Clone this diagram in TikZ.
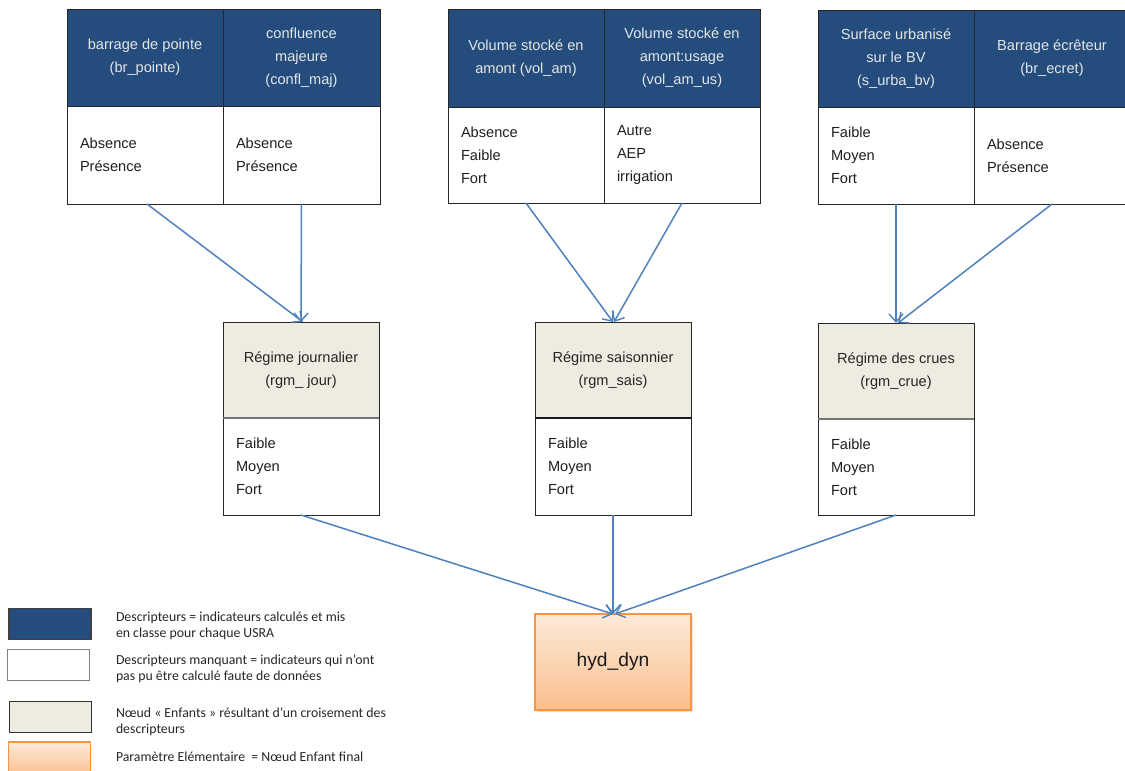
\documentclass[tikz,border=0pt]{standalone}
\usepackage{fontspec}
\setmainfont{Liberation Sans}
\newfontfamily\legfont{Carlito}
\usetikzlibrary{arrows.meta,shadows}
\definecolor{hdrblue}{RGB}{36,77,126}
\definecolor{beige}{RGB}{238,236,225}
\definecolor{arrowblue}{RGB}{79,129,189}
\definecolor{orangeB}{RGB}{247,150,70}
\definecolor{orangeT}{RGB}{253,234,218}
\definecolor{orangeBot}{RGB}{250,190,140}
\begin{document}
\begin{tikzpicture}[x=1pt,y=-1pt,
  every node/.style={inner sep=0pt, outer sep=0pt},
  hdr/.style={rectangle, draw=black!85, line width=0.8pt, fill=hdrblue, text=white!90!black,
    font=\fontsize{14.6}{23}\selectfont, align=center, minimum width=#1},
  hdr/.default=156pt,
  mid/.style={rectangle, draw=black!85, line width=0.8pt, fill=beige, text=black!85,
    font=\fontsize{14.6}{23}\selectfont, align=center, minimum width=156pt, minimum height=96pt},
  bodybox/.style={rectangle, draw=black!85, line width=0.8pt, fill=white, text=black!88,
    font=\fontsize{14.6}{23}\selectfont, align=left, inner xsep=13pt, text width=130pt},
  conn/.style={draw=arrowblue, line width=1.5pt, -{Straight Barb[length=8pt,width=14pt,line width=1.4pt]}},
  legbox/.style={rectangle, minimum width=82pt, minimum height=31pt, line width=1.2pt},
  legtxt/.style={anchor=west, align=left, text=black!85, font=\legfont\fontsize{13.8}{16}\selectfont}
]
\useasboundingbox (0,0) rectangle (1125,771);
\clip (0,0) rectangle (1125,771);

% ---- top group 1
\node[hdr=156pt, minimum height=97pt] (h1) at (145,57.5) {barrage de pointe\\(br\_pointe)};
\node[hdr=157pt, minimum height=97pt] (h2) at (301.5,57.5) {confluence\\majeure\\(confl\_maj)};
\node[bodybox, minimum height=98pt] (b1) at (145,155) {Absence\\Présence};
\node[bodybox, text width=131pt, minimum height=98pt] (b2) at (301.5,155) {Absence\\Présence};

% ---- top group 2
\node[hdr=156pt, minimum height=98pt] (h3) at (526,58) {Volume stocké en\\amont (vol\_am)};
\node[hdr=156pt, minimum height=98pt] (h4) at (682,58) {Volume stocké en\\amont:usage\\(vol\_am\_us)};
\node[bodybox, minimum height=96pt] (b3) at (526,155) {Absence\\Faible\\Fort};
\node[bodybox, minimum height=96pt] (b4) at (682,155) {Autre\\AEP\\irrigation};

% ---- top group 3
\node[hdr=156pt, minimum height=97pt] (h5) at (896,58.5) {Surface urbanisé\\sur le BV\\(s\_urba\_bv)};
\node[hdr=156pt, minimum height=97pt] (h6) at (1052,58.5) {Barrage écrêteur\\(br\_ecret)};
\node[bodybox, minimum height=97pt] (b5) at (896,155.5) {Faible\\Moyen\\Fort};
\node[bodybox, minimum height=97pt] (b6) at (1052,155.5) {Absence\\Présence};

% ---- middle nodes
\node[mid] (j) at (301,370) {Régime journalier\\(rgm\_ jour)};
\node[bodybox, minimum height=97pt] (jb) at (301,466.5) {Faible\\Moyen\\Fort};
\node[mid] (s) at (613,370) {Régime saisonnier\\(rgm\_sais)};
\node[bodybox, minimum height=97pt] (sb) at (613,466.5) {Faible\\Moyen\\Fort};
\node[mid] (c) at (896,371) {Régime des crues\\(rgm\_crue)};
\node[bodybox, minimum height=96pt] (cb) at (896,467) {Faible\\Moyen\\Fort};
\draw[black!55, line width=1.3pt] (j.south west) -- (j.south east);
\draw[black!55, line width=1.3pt] (c.south west) -- (c.south east);
\draw[black!90, line width=1.3pt] (s.south west) -- (s.south east);

% ---- final node
\node[rectangle, draw=orangeB, line width=1.3pt, top color=orangeT, bottom color=orangeBot,
  minimum width=156pt, minimum height=96pt, font=\fontsize{19.2}{23}\selectfont, text=black!90,
  drop shadow={opacity=0.25, shadow xshift=2pt, shadow yshift=-2pt}] (hyd) at (613,662) {hyd\_dyn};

% ---- connectors
\draw[conn] ([xshift=2pt]b1.south) -- ([xshift=2pt]j.north);
\draw[conn] (b2.south) -- (j.north);
\draw[conn] (b3.south) -- (s.north);
\draw[conn] (b4.south) -- ([xshift=1pt]s.north);
\draw[conn] (b5.south) -- (c.north);
\draw[conn] (b6.south) -- ([xshift=2pt]c.north);
\draw[conn] (jb.south) -- (hyd.north);
\draw[conn] (sb.south) -- (hyd.north);
\draw[conn] (cb.south) -- ([xshift=2pt]hyd.north);

% ---- legend
\node[legbox, draw=black!75, fill=hdrblue] (l1) at (50,624) {};
\node[legbox, draw=black!50, fill=white] (l2) at (48.5,665) {};
\node[legbox, draw=black!80, fill=beige] (l3) at (50.5,717) {};
\node[legbox, draw=orangeB, top color=orangeT, bottom color=orangeBot, minimum height=34pt] (l4) at (49.5,759) {};
\node[legtxt] (t1) at (116,626) {Descripteurs = indicateurs calculés et mis\\en classe pour chaque USRA};
\node[legtxt] (t2) at (116,669) {Descripteurs manquant = indicateurs qui n’ont\\pas pu être calculé faute de données};
\node[legtxt] (t3) at (116,722) {Nœud « Enfants » résultant d’un croisement des\\descripteurs};
\node[legtxt] (t4) at (116,757) {Paramètre Elémentaire \ = Nœud Enfant final};
\end{tikzpicture}
\end{document}
